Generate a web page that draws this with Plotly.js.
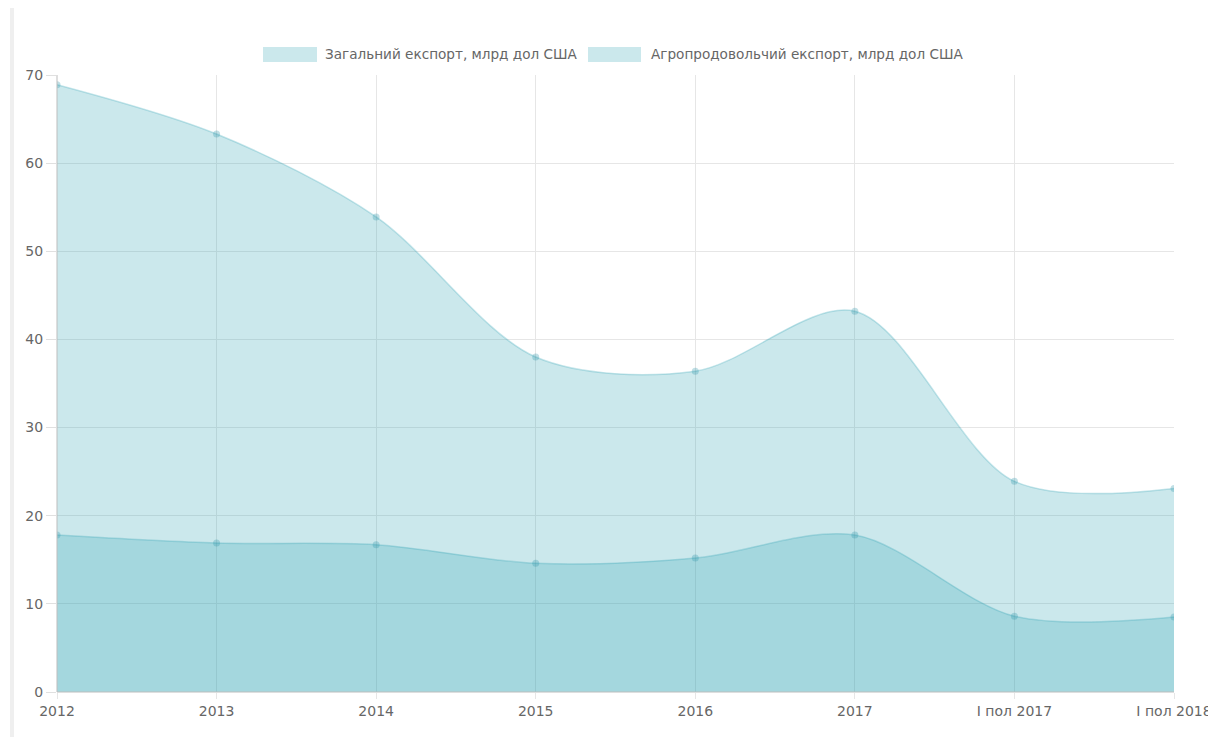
<!DOCTYPE html>
<html>
<head>
<meta charset="utf-8">
<script src="https://cdn.plot.ly/plotly-3.0.1.min.js"></script>
<style>
html,body{margin:0;padding:0;background:#fff;}
#chart{width:1215px;height:737px;}
</style>
</head>
<body>
<div id="chart"></div>
<script>
const categories = ["2012", "2013", "2014", "2015", "2016", "2017", "I пол 2017", "I пол 2018"];
const totalExport = [68.9, 63.3, 53.9, 38.0, 36.4, 43.2, 23.9, 23.1];
const agroExport = [17.8, 16.9, 16.7, 14.6, 15.2, 17.8, 8.6, 8.5];
const seriesNames = ["Загальний експорт, млрд дол США", "Агропродовольчий експорт, млрд дол США"];
const yTicks = [0, 10, 20, 30, 40, 50, 60, 70];

const fillColor = "rgba(47,163,179,0.25)";
const lineColor = "rgba(47,163,179,0.28)";
const markerColor = "rgba(47,150,170,0.3)";
const legendBox = "rgb(203,232,236)";

// plot-area geometry in pixels (for paper-coordinate conversions)
const W = 1215, H = 737, ML = 57, MR = 41, MT = 75, MB = 45;
const PW = W - ML - MR, PH = H - MT - MB;
const px = v => (v - ML) / PW;
const py = v => (H - MB - v) / PH;

function trace(name, y) {
  return {
    x: categories,
    y: y,
    name: name,
    type: "scatter",
    mode: "lines+markers",
    fill: "tozeroy",
    fillcolor: fillColor,
    line: {shape: "spline", smoothing: 0.9, color: lineColor, width: 1.5},
    marker: {size: 7, color: markerColor, line: {width: 0}},
    hoverinfo: "x+y+name",
    showlegend: false
  };
}

const data = [trace(seriesNames[0], totalExport), trace(seriesNames[1], agroExport)];

// manual Chart.js-style legend
const legendItems = [
  {box: [263, 317], text: 323},
  {box: [588, 641], text: 649}
];
const legendShapes = legendItems.map(it => ({
  type: "rect", xref: "paper", yref: "paper",
  x0: px(it.box[0]), x1: px(it.box[1]), y0: py(62), y1: py(47),
  fillcolor: legendBox, line: {width: 0}
}));
const legendAnn = legendItems.map((it, i) => ({
  xref: "paper", yref: "paper", x: px(it.text), y: py(54.5),
  xanchor: "left", yanchor: "middle", showarrow: false,
  text: seriesNames[i],
  font: {family: "DejaVu Sans, sans-serif", size: 13.6, color: "#666"}
}));

const layout = {
  width: W,
  height: H,
  margin: {l: ML, r: MR, t: MT, b: MB},
  paper_bgcolor: "#fff",
  plot_bgcolor: "#fff",
  font: {family: "DejaVu Sans, sans-serif", size: 14, color: "#666"},
  showlegend: false,
  xaxis: {
    type: "category",
    range: [0, categories.length - 1],
    showgrid: true,
    gridcolor: "#e6e6e6",
    gridwidth: 1,
    zeroline: false,
    showline: false,
    ticks: "outside",
    ticklen: 6,
    tickcolor: "#e6e6e6",
    tickfont: {family: "DejaVu Sans, sans-serif", size: 14, color: "#666"},
    fixedrange: true
  },
  yaxis: {
    range: [0, 70],
    tickvals: yTicks,
    ticktext: yTicks.map(String),
    showgrid: true,
    gridcolor: "#e6e6e6",
    gridwidth: 1,
    zeroline: false,
    showline: false,
    ticks: "outside",
    ticklen: 10,
    tickcolor: "#e0e0e0",
    tickfont: {family: "DejaVu Sans, sans-serif", size: 14, color: "#666"},
    fixedrange: true
  },
  annotations: legendAnn,
  shapes: [
    {type: "line", xref: "paper", yref: "paper", x0: 0, x1: 0, y0: 0, y1: 1, line: {color: "#bdbdbd", width: 1}},
    {type: "line", xref: "paper", yref: "paper", x0: 0, x1: 1, y0: 0, y1: 0, line: {color: "#bdbdbd", width: 1}},
    {type: "rect", xref: "paper", yref: "paper", x0: px(10), x1: px(14), y0: py(737), y1: py(8), fillcolor: "#efefef", line: {width: 0}, layer: "below"},
    {type: "rect", xref: "paper", yref: "paper", x0: px(1208), x1: px(1216), y0: py(737), y1: py(700), fillcolor: "#fff", line: {width: 0}, layer: "above"}
  ].concat(legendShapes)
};

Plotly.newPlot("chart", data, layout, {displayModeBar: false, responsive: false});
</script>
</body>
</html>
